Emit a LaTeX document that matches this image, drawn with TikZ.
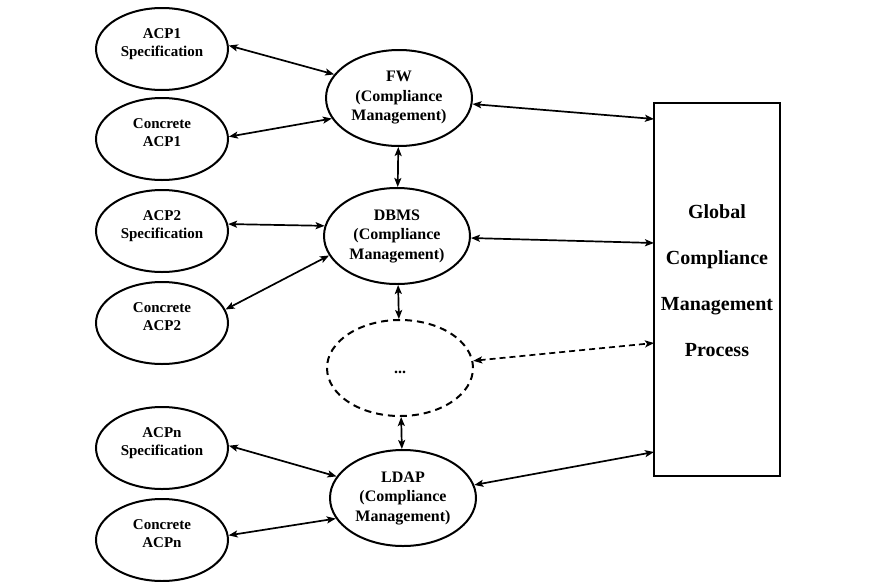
\documentclass[tikz,border=0pt]{standalone}
\usepackage{fontspec}
\setmainfont{Liberation Serif}
\usetikzlibrary{shapes.geometric,arrows.meta}
\begin{document}
\begin{tikzpicture}[x=1pt,y=-1pt,
  font=\bfseries\fontsize{15}{18.5}\selectfont,
  srcnode/.style={ellipse,draw,line width=2pt,minimum width=132pt,minimum height=82pt,
    inner sep=0pt,align=center,text depth=13pt},
  cmnode/.style={ellipse,draw,line width=2pt,minimum width=146pt,minimum height=96pt,
    inner sep=0pt,align=center,font=\bfseries\fontsize{16}{19.5}\selectfont},
  tip/.tip={Stealth[length=9pt,width=7pt,inset=2pt]},
  link/.style={line width=1.7pt,tip-tip},
  dashlink/.style={link,dash pattern=on 6pt off 4pt},
  ]
\useasboundingbox (0,0) rectangle (869,581);

% policy sources on the left
\node[srcnode] (acp1s) at (162,49)  {ACP1\\Specification};
\node[srcnode] (acp1c) at (162,139) {Concrete\\ACP1};
\node[srcnode] (acp2s) at (162,231) {ACP2\\Specification};
\node[srcnode] (acp2c) at (162,323) {Concrete\\ACP2};
\node[srcnode] (acpns) at (162,448) {ACPn\\Specification};
\node[srcnode] (acpnc) at (162,540) {Concrete\\ACPn};

% per-system compliance management
\node[cmnode] (fw)   at (399,98)  {FW\\(Compliance\\Management)};
\node[cmnode] (dbms) at (397,236) {DBMS\\(Compliance\\Management)};
\node[cmnode,dash pattern=on 7pt off 5pt,text height=10pt,text depth=0pt] (dots)
  at (400,368) {...};
\node[cmnode] (ldap) at (403,498) {LDAP\\(Compliance\\Management)};

% global process
\node[draw,line width=2pt,minimum width=126pt,minimum height=373pt,inner sep=0pt]
  (gcmp) at (717,289.5) {};
\node[align=center,font=\bfseries\fontsize{20}{46}\selectfont] (gcmt) at (717,281)
  {Global\\Compliance\\Management\\Process};

\coordinate (r1) at (654,119);
\coordinate (r2) at (654,243);
\coordinate (r3) at (654,343);
\coordinate (r4) at (654,452);

% connectors
\draw[link] (acp1s.3) -- (fw.160);
\draw[link] (acp1c.2) -- (fw.197);
\draw[link] (acp2s.6) -- (dbms.172);
\draw[link] (acp2c.12) -- (dbms.196);
\draw[link] (acpns.2) -- (ldap.162);
\draw[link] (acpnc.4) -- (ldap.197);

\draw[link] (fw) -- (dbms);
\draw[link] (dbms) -- (dots);
\draw[link] (dots) -- (ldap);

\draw[link] (fw) -- (r1);
\draw[link] (dbms) -- (r2);
\draw[dashlink] (dots) -- (r3);
\draw[link] (ldap) -- (r4);
\end{tikzpicture}
\end{document}
